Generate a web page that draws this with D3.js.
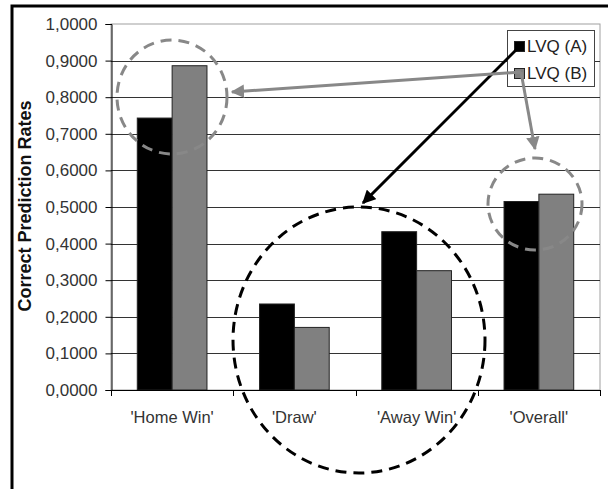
<!DOCTYPE html>
<html>
<head>
<meta charset="utf-8">
<script src="https://cdn.jsdelivr.net/npm/d3@7"></script>
<style>
  body { margin: 0; background: #fff; }
  svg { display: block; font-family: "Liberation Sans", Arial, sans-serif; }
</style>
</head>
<body>
<svg id="chart" width="608" height="489"></svg>
<script>
// data
const categories = ["'Home Win'", "'Draw'", "'Away Win'", "'Overall'"];
const seriesNames = ["LVQ (A)", "LVQ (B)"];
const valuesA = [0.743, 0.235, 0.4325, 0.515];
const valuesB = [0.886, 0.171, 0.326, 0.535];
const yTicks = [0, 0.1, 0.2, 0.3, 0.4, 0.5, 0.6, 0.7, 0.8, 0.9, 1.0];

const svg = d3.select("#chart");
const plot = {left: 111, right: 600, top: 24, bottom: 390};

const colour = d3.scaleOrdinal().domain(seriesNames).range(["#000000", "#808080"]);

const yScale = d3.scaleLinear().domain([0, 1]).range([plot.bottom, plot.top]);
const xScale = d3.scaleBand().domain(categories)
    .range([plot.left, plot.right])
    .paddingInner(0.43).paddingOuter(0.215);
const xSub = d3.scaleBand().domain(seriesNames).range([0, xScale.bandwidth()]);

// outer frame
svg.append("rect")
    .attr("x", 12).attr("y", 6).attr("width", 640).attr("height", 520)
    .attr("fill", "none").attr("stroke", "#000").attr("stroke-width", 3);

// plot area border
svg.append("rect")
    .attr("x", plot.left).attr("y", plot.top)
    .attr("width", plot.right - plot.left).attr("height", plot.bottom - plot.top)
    .attr("fill", "none").attr("stroke", "#a0a0a0").attr("stroke-width", 1);

// gridlines
svg.append("g").selectAll("line")
    .data(yTicks.filter(d => d > 0 && d < 1))
    .enter().append("line")
    .attr("x1", plot.left).attr("x2", plot.right)
    .attr("y1", d => Math.round(yScale(d)) + 0.5)
    .attr("y2", d => Math.round(yScale(d)) + 0.5)
    .attr("stroke", "#333").attr("stroke-width", 1);

// bars
const rows = categories.map((c, i) => ({cat: c, values: [
    {name: seriesNames[0], value: valuesA[i]},
    {name: seriesNames[1], value: valuesB[i]}
]}));

svg.append("g").selectAll("g")
    .data(rows).enter().append("g")
    .attr("transform", d => "translate(" + xScale(d.cat) + ",0)")
    .selectAll("rect")
    .data(d => d.values).enter().append("rect")
    .attr("x", d => xSub(d.name))
    .attr("width", xSub.bandwidth())
    .attr("y", d => yScale(d.value))
    .attr("height", d => yScale(0) - yScale(d.value))
    .attr("fill", d => colour(d.name))
    .attr("stroke", "#222").attr("stroke-width", 1);

// y axis
const yAxis = d3.axisLeft(yScale)
    .tickValues(yTicks)
    .tickSize(6)
    .tickPadding(8)
    .tickFormat(d => d3.format(".4f")(d).replace(".", ","));
const yG = svg.append("g")
    .attr("transform", "translate(" + (plot.left + 0.5) + ",0)")
    .call(yAxis);
yG.select(".domain").attr("stroke", "#000");
yG.selectAll(".tick line").attr("stroke", "#000");
yG.selectAll("text")
    .attr("font-size", 17).attr("fill", "#333")
    .attr("font-family", "Liberation Sans, Arial, sans-serif");

// x axis
const xG = svg.append("g");
xG.append("line")
    .attr("x1", plot.left).attr("x2", plot.right)
    .attr("y1", plot.bottom + 0.5).attr("y2", plot.bottom + 0.5)
    .attr("stroke", "#000");
const boundaries = categories.map(c => xScale(c) - xScale.step() * xScale.paddingInner() / 2)
    .concat([plot.right]);
xG.selectAll(".xtick").data(boundaries).enter().append("line")
    .attr("x1", d => Math.round(d) + 0.5).attr("x2", d => Math.round(d) + 0.5)
    .attr("y1", plot.bottom).attr("y2", plot.bottom + 6)
    .attr("stroke", "#000");
xG.selectAll(".xlabel").data(categories).enter().append("text")
    .attr("x", d => xScale(d) + xScale.bandwidth() / 2)
    .attr("y", 423)
    .attr("text-anchor", "middle")
    .attr("font-size", 16.5).attr("fill", "#333")
    .text(d => d);

// y title
svg.append("text")
    .attr("transform", "translate(31,206) rotate(-90)")
    .attr("text-anchor", "middle")
    .attr("font-size", 18).attr("font-weight", "bold").attr("fill", "#111")
    .text("Correct Prediction Rates");

// legend
const legend = svg.append("g");
legend.append("rect")
    .attr("x", 507.5).attr("y", 30.5).attr("width", 87).attr("height", 56)
    .attr("fill", "#fff").attr("stroke", "#444");
legend.selectAll(".sw").data(seriesNames).enter().append("rect")
    .attr("x", 514.5).attr("y", (d, i) => 41.5 + i * 27)
    .attr("width", 10).attr("height", 10)
    .attr("fill", d => colour(d)).attr("stroke", "#222");
legend.selectAll(".lt").data(seriesNames).enter().append("text")
    .attr("x", 527).attr("y", (d, i) => 52 + i * 27)
    .attr("font-size", 17).attr("fill", "#222")
    .text(d => d);

// annotations: dashed ellipses and arrows
const defs = svg.append("defs");
[["arrBlack", "#000"], ["arrGray", "#888"]].forEach(m => {
    defs.append("marker")
        .attr("id", m[0]).attr("viewBox", "0 0 10 10")
        .attr("refX", 9).attr("refY", 5)
        .attr("markerWidth", 4.5).attr("markerHeight", 4.5)
        .attr("orient", "auto")
        .append("path").attr("d", "M0,0 L10,5 L0,10 z").attr("fill", m[1]);
});

const ann = svg.append("g");
ann.append("ellipse")
    .attr("cx", 172).attr("cy", 97).attr("rx", 55).attr("ry", 57)
    .attr("fill", "none").attr("stroke", "#888").attr("stroke-width", 3)
    .attr("stroke-dasharray", "11,7");
ann.append("ellipse")
    .attr("cx", 535).attr("cy", 204).attr("rx", 47).attr("ry", 46)
    .attr("fill", "none").attr("stroke", "#888").attr("stroke-width", 3)
    .attr("stroke-dasharray", "11,7");
ann.append("ellipse")
    .attr("cx", 359).attr("cy", 340).attr("rx", 126).attr("ry", 133)
    .attr("fill", "none").attr("stroke", "#000").attr("stroke-width", 3)
    .attr("stroke-dasharray", "11,7");

ann.append("line")
    .attr("x1", 520).attr("y1", 46).attr("x2", 363).attr("y2", 203)
    .attr("stroke", "#000").attr("stroke-width", 3)
    .attr("marker-end", "url(#arrBlack)");
ann.append("line")
    .attr("x1", 521).attr("y1", 72).attr("x2", 232).attr("y2", 92)
    .attr("stroke", "#888").attr("stroke-width", 3)
    .attr("marker-end", "url(#arrGray)");
ann.append("line")
    .attr("x1", 521).attr("y1", 72).attr("x2", 535).attr("y2", 149)
    .attr("stroke", "#888").attr("stroke-width", 3)
    .attr("marker-end", "url(#arrGray)");
</script>
</body>
</html>
